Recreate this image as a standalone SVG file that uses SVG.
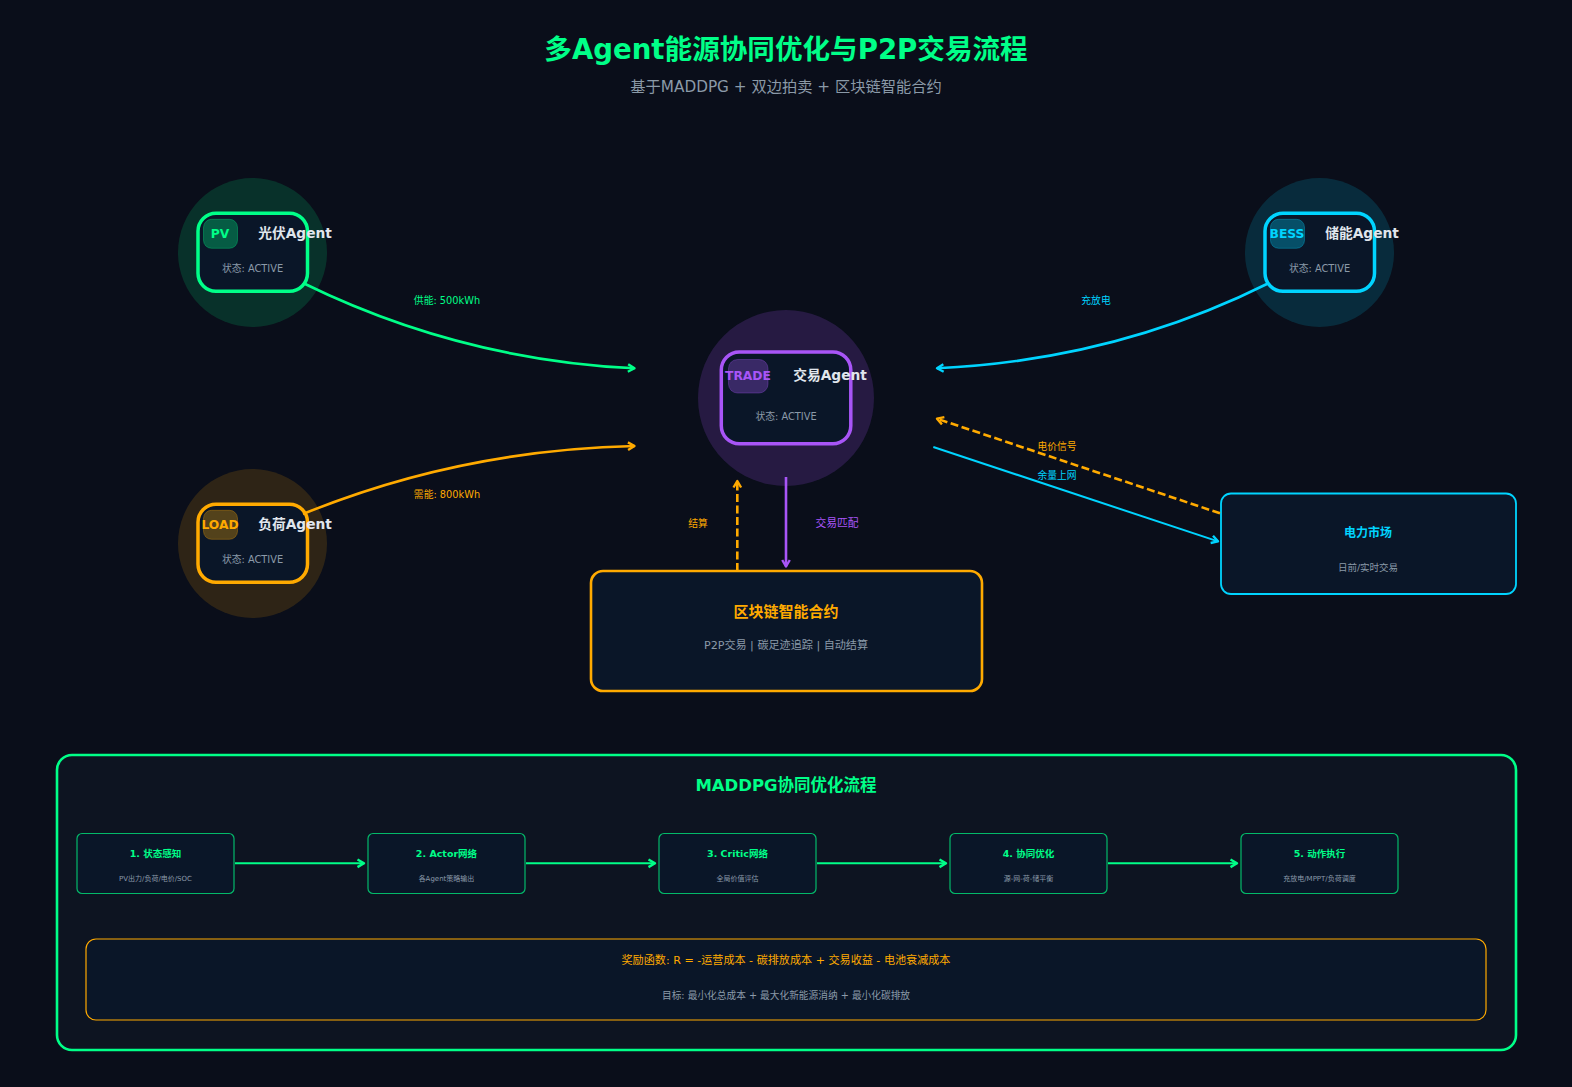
<svg xmlns="http://www.w3.org/2000/svg" width="1572" height="1087" viewBox="0 0 1572 1087">
<defs>
<marker id="mG" markerUnits="userSpaceOnUse" markerWidth="12" markerHeight="12" refX="8" refY="5" orient="auto"><path d="M1.500 1.200L8 5L1.500 8.800" fill="none" stroke="#00ff88" stroke-width="2.400" stroke-linejoin="round"/></marker>
<marker id="mO" markerUnits="userSpaceOnUse" markerWidth="12" markerHeight="12" refX="8" refY="5" orient="auto"><path d="M1.500 1.200L8 5L1.500 8.800" fill="none" stroke="#ffaa00" stroke-width="2.400" stroke-linejoin="round"/></marker>
<marker id="mC" markerUnits="userSpaceOnUse" markerWidth="12" markerHeight="12" refX="8" refY="5" orient="auto"><path d="M1.500 1.200L8 5L1.500 8.800" fill="none" stroke="#00d4ff" stroke-width="2.400" stroke-linejoin="round"/></marker>
<marker id="mP" markerUnits="userSpaceOnUse" markerWidth="12" markerHeight="12" refX="8" refY="5" orient="auto"><path d="M1.500 1.200L8 5L1.500 8.800" fill="none" stroke="#a855f7" stroke-width="2.400" stroke-linejoin="round"/></marker>
</defs>
<style>
text{font-family:"DejaVu Sans","Noto Sans CJK SC",sans-serif;text-anchor:middle}
.card{fill:#0a1628;stroke-width:3.500}
.name{font-size:13.750px;font-weight:700;fill:#e0e6ed}
.state{font-size:9.800px;fill:#8b9aa8}
.tag{font-size:12.300px;font-weight:700}
.lbl{font-size:9.800px}
.line{fill:none;stroke-width:2.600}
.thin{stroke-width:2}
.dash{stroke-dasharray:8 3.500}
.step{fill:#0a1628;stroke:#00ff88;stroke-width:1.200;stroke-opacity:.7}
.st{font-size:9.500px;font-weight:700;fill:#00ff88}
.ss{font-size:7px;fill:#8b9aa8}
.flow{fill:none;stroke:#00ff88;stroke-width:2;marker-end:url(#mG)}
</style>
<rect width="1572" height="1087" fill="#0a0e1a"/>
<text x="786" y="58.500" font-size="27.600" font-weight="700" fill="#00ff88">多Agent能源协同优化与P2P交易流程</text>
<text x="786" y="92" font-size="15.250" fill="#8b9aa8">基于MADDPG + 双边拍卖 + 区块链智能合约</text>

<g id="pv">
<circle cx="252.500" cy="252.500" r="74.500" fill="#00ff88" fill-opacity=".15"/>
<rect class="card" x="198" y="213.300" width="109.500" height="78" rx="18" stroke="#00ff88"/>
<rect x="203.500" y="219.300" width="34" height="29" rx="8" fill="#00ff88" fill-opacity=".3" stroke="#00ff88" stroke-opacity=".3"/>
<text class="tag" x="220" y="238" fill="#00ff88">PV</text>
<text class="name" x="295" y="238">光伏Agent</text>
<text class="state" x="252.500" y="272">状态: ACTIVE</text>
</g>
<g id="load">
<circle cx="252.500" cy="543.500" r="74.500" fill="#ffaa00" fill-opacity=".15"/>
<rect class="card" x="198" y="504.300" width="109.500" height="78" rx="18" stroke="#ffaa00"/>
<rect x="203.500" y="510.300" width="34" height="29" rx="8" fill="#ffaa00" fill-opacity=".3" stroke="#ffaa00" stroke-opacity=".3"/>
<text class="tag" x="220" y="529" fill="#ffaa00">LOAD</text>
<text class="name" x="295" y="529">负荷Agent</text>
<text class="state" x="252.500" y="563">状态: ACTIVE</text>
</g>
<g id="bess">
<circle cx="1319.500" cy="252.500" r="74.500" fill="#00d4ff" fill-opacity=".15"/>
<rect class="card" x="1265" y="213.300" width="109.500" height="78" rx="18" stroke="#00d4ff"/>
<rect x="1270.500" y="219.300" width="34" height="29" rx="8" fill="#00d4ff" fill-opacity=".3" stroke="#00d4ff" stroke-opacity=".3"/>
<text class="tag" x="1287" y="238" fill="#00d4ff">BESS</text>
<text class="name" x="1362" y="238">储能Agent</text>
<text class="state" x="1319.500" y="272">状态: ACTIVE</text>
</g>
<g id="trade">
<circle cx="786" cy="398" r="88" fill="#a855f7" fill-opacity=".18"/>
<rect class="card" x="721.300" y="352" width="129.500" height="91.800" rx="18" stroke="#a855f7"/>
<rect x="728.500" y="359.500" width="39.500" height="33.500" rx="9" fill="#a855f7" fill-opacity=".3" stroke="#a855f7" stroke-opacity=".3"/>
<text class="tag" x="748" y="379.500" fill="#a855f7">TRADE</text>
<text class="name" x="830" y="380">交易Agent</text>
<text class="state" x="786" y="420">状态: ACTIVE</text>
</g>
<g id="blockchain">
<rect x="591" y="571" width="391" height="120" rx="12" fill="#0a1628" stroke="#ffaa00" stroke-width="2.600"/>
<text x="786" y="617" font-size="15" font-weight="700" fill="#ffaa00">区块链智能合约</text>
<text x="786" y="649" font-size="11.100" fill="#8b9aa8">P2P交易 | 碳足迹追踪 | 自动结算</text>
</g>
<g id="market">
<rect x="1221" y="493.500" width="295" height="100.500" rx="10" fill="#0a1628" stroke="#00d4ff" stroke-width="1.800"/>
<text x="1368" y="537" font-size="12" font-weight="700" fill="#00d4ff">电力市场</text>
<text x="1368" y="571" font-size="9.500" fill="#8b9aa8">日前/实时交易</text>
</g>
<g id="maddpg-panel">
<rect x="57" y="755" width="1459" height="295" rx="15" fill="#0d1421" stroke="#00ff88" stroke-width="2.600"/>
<text x="786" y="791" font-size="16.500" font-weight="700" fill="#00ff88">MADDPG协同优化流程</text>
</g>
<g id="step1"><rect class="step" x="77" y="833.500" width="157" height="60" rx="5"/><text class="st" x="155.500" y="857">1. 状态感知</text><text class="ss" x="155.500" y="881">PV出力/负荷/电价/SOC</text></g>
<g id="step2"><rect class="step" x="368" y="833.500" width="157" height="60" rx="5"/><text class="st" x="446.500" y="857">2. Actor网络</text><text class="ss" x="446.500" y="881">各Agent策略输出</text></g>
<g id="step3"><rect class="step" x="659" y="833.500" width="157" height="60" rx="5"/><text class="st" x="737.500" y="857">3. Critic网络</text><text class="ss" x="737.500" y="881">全局价值评估</text></g>
<g id="step4"><rect class="step" x="950" y="833.500" width="157" height="60" rx="5"/><text class="st" x="1028.500" y="857">4. 协同优化</text><text class="ss" x="1028.500" y="881">源-网-荷-储平衡</text></g>
<g id="step5"><rect class="step" x="1241" y="833.500" width="157" height="60" rx="5"/><text class="st" x="1319.500" y="857">5. 动作执行</text><text class="ss" x="1319.500" y="881">充放电/MPPT/负荷调度</text></g>
<g id="reward">
<rect x="86" y="939" width="1400" height="81" rx="10" fill="#0a1628" stroke="#ffaa00" stroke-width="1.200"/>
<text x="786" y="964" font-size="11.100" fill="#ffaa00">奖励函数: R = -运营成本 - 碳排放成本 + 交易收益 - 电池衰减成本</text>
<text x="786" y="999" font-size="9.700" fill="#8b9aa8">目标: 最小化总成本 + 最大化新能源消纳 + 最小化碳排放</text>
</g>

<g id="connectors">
<path class="line" stroke="#00ff88" marker-end="url(#mG)" d="M303 283Q460 360 634.500 368.300"/>
<path class="line" stroke="#ffaa00" marker-end="url(#mO)" d="M303 514Q460 450 634.500 446"/>
<path class="line" stroke="#00d4ff" marker-end="url(#mC)" d="M1269 283Q1115 360 937 368.300"/>
<path class="line dash" stroke="#ffaa00" marker-end="url(#mO)" d="M1220 513.300L937 418.700"/>
<path class="line thin" stroke="#00d4ff" marker-end="url(#mC)" d="M933.300 447L1218 541.400"/>
<path class="line" stroke="#a855f7" marker-end="url(#mP)" d="M786 477V566.500"/>
<path class="line dash" stroke="#ffaa00" marker-end="url(#mO)" d="M737.300 571V481"/>
<path class="flow" d="M235 863.300H364"/>
<path class="flow" d="M526 863.300H655"/>
<path class="flow" d="M817 863.300H946"/>
<path class="flow" d="M1108 863.300H1237"/>
</g>
<g id="edge-labels">
<text class="lbl" x="447" y="304" fill="#00ff88">供能: 500kWh</text>
<text class="lbl" x="447" y="498" fill="#ffaa00">需能: 800kWh</text>
<text class="lbl" x="1096" y="304" fill="#00d4ff">充放电</text>
<text class="lbl" x="1057" y="450" fill="#ffaa00">电价信号</text>
<text class="lbl" x="1057" y="479" fill="#00d4ff">余量上网</text>
<text class="lbl" x="698" y="527" fill="#ffaa00">结算</text>
<text x="837" y="527" font-size="10.800" fill="#a855f7">交易匹配</text>
</g>
</svg>
